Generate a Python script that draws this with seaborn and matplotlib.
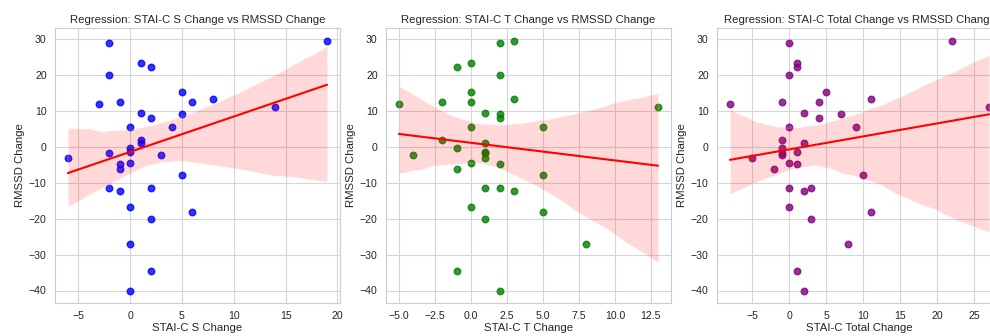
import matplotlib
matplotlib.use("Agg")
import matplotlib.pyplot as plt
import seaborn as sns
import pandas as pd

# Data (one entry per subject)
rmssd_change = [28.9, 20.0, 12.0, 12.6, 12.5, -1.6, -4.6, -6.2, -11.4, -11.4,
                -12.2, 5.6, -0.4, -1.4, -4.4, -16.7, -27.1, -40.0, 23.3, 22.3,
                9.4, 8.0, 1.95, 1.2, -2.2, -20.2, -34.6, 5.5, 15.3, 9.1,
                -7.9, -18.0, 13.4, 11.1, 29.7, -3.1]
stai_s_change = [-2, -2, -3, -1, 6, -2, -1, -1, -2, 2,
                 -1, 0, 0, 0, 0, 0, 0, 0, 1, 2,
                 1, 2, 1, 1, 3, 2, 2, 4, 5, 5,
                 5, 6, 8, 14, 19, -6]
stai_t_change = [2, 2, -5, 0, -2, 1, 2, -1, 2, 1,
                 3, 0, -1, 1, 0, 0, 8, 2, 0, -1,
                 1, 2, -2, 1, -4, 1, -1, 5, 0, 2,
                 5, 5, 3, 13, 3, 1]
stai_total_change = [0, 0, -8, -1, 4, -1, 1, -2, 0, 3,
                     2, 0, -1, 1, 0, 0, 8, 2, 1, 1,
                     2, 4, -1, 2, -1, 3, 1, 9, 5, 7,
                     10, 11, 11, 27, 22, -5]

panels = [
    ("STAI-C S Change", stai_s_change, "blue"),
    ("STAI-C T Change", stai_t_change, "green"),
    ("STAI-C Total Change", stai_total_change, "purple"),
]

df = pd.DataFrame({
    "RMSSD Change": rmssd_change,
    "STAI-C S Change": stai_s_change,
    "STAI-C T Change": stai_t_change,
    "STAI-C Total Change": stai_total_change,
})

sns.set_theme(style="whitegrid")
plt.rcParams["font.family"] = ["Liberation Sans", "DejaVu Sans"]
plt.rcParams["axes.edgecolor"] = "#cccccc"
plt.rcParams["grid.color"] = "#d6d6d6"

W, H = 990, 336
fig = plt.figure(figsize=(W / 100, H / 100), dpi=100)

lefts = [55, 386, 717]
top, bottom = 28, 303
width = 285

for left, (xlabel, xs, color) in zip(lefts, panels):
    ax = fig.add_axes([left / W, 1 - bottom / H, width / W, (bottom - top) / H])
    sns.regplot(data=df, x=xlabel, y="RMSSD Change", ax=ax,
                scatter_kws={"color": color, "s": 22, "alpha": 0.8},
                line_kws={"color": "red", "linewidth": 1.5}, seed=0)
    ax.set_title(f"Regression: {xlabel} vs RMSSD Change", fontsize=8.2, pad=3.5, color="#262626")
    ax.set_xlabel(xlabel, fontsize=8.2, labelpad=1.5)
    ax.set_ylabel("RMSSD Change", fontsize=8.2, labelpad=3)
    ax.tick_params(labelsize=7.6, length=0, pad=6)
    for sp in ax.spines.values():
        sp.set_linewidth(0.8)
    ax.grid(linewidth=0.8)

fig.savefig("out.png", dpi=100)
